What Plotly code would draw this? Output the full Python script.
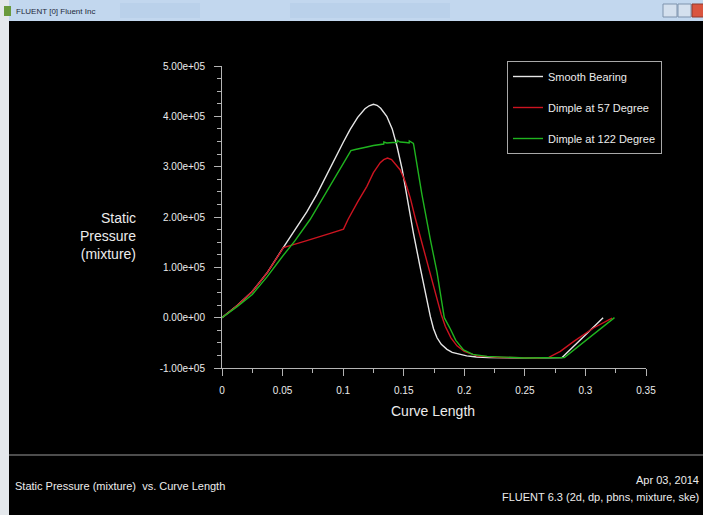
import plotly.graph_objects as go

# ---------------- data ----------------
smooth_x = [0, 0.0125, 0.025, 0.0375, 0.05, 0.0617, 0.07, 0.0783, 0.086, 0.092, 0.1, 0.1058, 0.112, 0.118,
            0.1215, 0.125, 0.128, 0.131, 0.136, 0.1405, 0.1444, 0.1487, 0.1526, 0.158, 0.1636, 0.169, 0.172,
            0.1746, 0.1775, 0.181, 0.1857, 0.19, 0.196, 0.202, 0.21, 0.22, 0.25, 0.27, 0.2807, 0.2976, 0.3146]
smooth_y = [0, 0.24e5, 0.52e5, 0.9e5, 1.37e5, 1.8e5, 2.1e5, 2.45e5, 2.82e5, 3.12e5, 3.48e5, 3.74e5, 3.98e5, 4.15e5,
            4.21e5, 4.24e5, 4.22e5, 4.16e5, 4.0e5, 3.75e5, 3.41e5, 2.95e5, 2.38e5, 1.68e5, 1.0e5, 0.36e5, 0.02e5,
            -0.22e5, -0.40e5, -0.53e5, -0.63e5, -0.69e5, -0.73e5, -0.76e5, -0.78e5, -0.79e5, -0.80e5, -0.80e5,
            -0.79e5, -0.40e5, 0.0]

dimple57_x = [0, 0.0125, 0.025, 0.0375, 0.0507, 0.053, 0.059, 0.07, 0.08, 0.09, 0.1003, 0.104, 0.112, 0.1196,
              0.125, 0.1306, 0.1335, 0.1366, 0.14, 0.1435, 0.147, 0.151, 0.1554, 0.1595, 0.1636, 0.1705, 0.1774,
              0.181, 0.1843, 0.189, 0.194, 0.2, 0.2105, 0.23, 0.26, 0.2698, 0.2793, 0.2904, 0.307, 0.322]
dimple57_y = [0, 0.24e5, 0.52e5, 0.9e5, 1.39e5, 1.41e5, 1.45e5, 1.53e5, 1.6e5, 1.68e5, 1.76e5, 1.95e5, 2.3e5,
              2.61e5, 2.88e5, 3.08e5, 3.14e5, 3.17e5, 3.14e5, 3.05e5, 2.94e5, 2.72e5, 2.38e5, 1.98e5, 1.62e5,
              1.0e5, 0.36e5, 0.06e5, -0.17e5, -0.40e5, -0.56e5, -0.67e5, -0.76e5, -0.79e5, -0.80e5, -0.79e5,
              -0.67e5, -0.47e5, -0.20e5, -0.01e5]

dimple122_x = [0, 0.0125, 0.025, 0.0375, 0.05, 0.06, 0.0727, 0.082, 0.092, 0.1064, 0.11, 0.115, 0.1196,
               0.125, 0.13, 0.1335, 0.1336, 0.136, 0.141, 0.1445, 0.1446, 0.147, 0.152, 0.1545, 0.1546,
               0.158, 0.1585, 0.165, 0.172, 0.1775, 0.1815, 0.1835, 0.1884, 0.193, 0.1994, 0.207, 0.2187,
               0.25, 0.2826, 0.324]
dimple122_y = [0, 0.22e5, 0.46e5, 0.82e5, 1.22e5, 1.52e5, 1.95e5, 2.33e5, 2.74e5, 3.32e5, 3.34e5, 3.36e5, 3.39e5,
               3.42e5, 3.44e5, 3.45e5, 3.49e5, 3.47e5, 3.48e5, 3.48e5, 3.52e5, 3.49e5, 3.48e5, 3.47e5, 3.51e5,
               3.46e5, 3.40e5, 2.45e5, 1.55e5, 0.9e5, 0.3e5, 0.0, -0.22e5, -0.45e5, -0.64e5, -0.73e5, -0.77e5,
               -0.80e5, -0.79e5, 0.0]

series_names = ["Smooth Bearing", "Dimple at 57 Degree", "Dimple at 122 Degree"]
series_colors = ["#e6e6e6", "#cc1420", "#1fb41f"]

y_tickvals = [-1e5, 0, 1e5, 2e5, 3e5, 4e5, 5e5]
y_ticktext = ["-1.00e+05", "0.00e+00", "1.00e+05", "2.00e+05", "3.00e+05", "4.00e+05", "5.00e+05"]
x_tickvals = [0, 0.05, 0.1, 0.15, 0.2, 0.25, 0.3, 0.35]
x_ticktext = ["0", "0.05", "0.1", "0.15", "0.2", "0.25", "0.3", "0.35"]

# ---------------- layout helpers ----------------
W, H = 703, 515
L, R, T, B = 222, 646, 66, 368  # plot area in pixels


def px(xp):
    return (xp - L) / (R - L)


def py(yp):
    return (B - yp) / (B - T)


FONT = "Liberation Sans, Arial, sans-serif"
AXC = "#b4b4b4"
TXT = "#ececec"

fig = go.Figure()
for xs, ys, nm, col in zip([smooth_x, dimple57_x, dimple122_x],
                           [smooth_y, dimple57_y, dimple122_y],
                           series_names, series_colors):
    fig.add_trace(go.Scatter(x=xs, y=ys, mode="lines", name=nm, legendgroup=nm,
                             line=dict(color=col, width=1.4)))

fig.update_layout(
    width=W, height=H, autosize=False,
    margin=dict(l=L, r=W - R, t=T, b=H - B, pad=0),
    paper_bgcolor="black", plot_bgcolor="black",
    font=dict(family=FONT, color=TXT, size=12),
    showlegend=True,
    legend=dict(x=px(507), y=py(61), xanchor="left", yanchor="top",
                bgcolor="black", bordercolor="#a8a8a8", borderwidth=1,
                font=dict(family=FONT, size=11, color=TXT),
                tracegroupgap=12, itemwidth=30),
)

fig.update_xaxes(range=[0, 0.35], showgrid=False, zeroline=False,
                 showline=True, linecolor=AXC, linewidth=1,
                 ticks="outside", ticklen=7, tickcolor=AXC, tickwidth=1,
                 tickvals=x_tickvals, ticktext=x_ticktext,
                 tickfont=dict(family=FONT, size=10, color=TXT),
                 minor=dict(ticks="outside", ticklen=4, dtick=0.025, tickcolor=AXC, showgrid=False),
                 ticklabelstandoff=6)
fig.update_yaxes(range=[-1e5, 5e5], showgrid=False, zeroline=False,
                 showline=True, linecolor=AXC, linewidth=1,
                 ticks="outside", ticklen=7, tickcolor=AXC, tickwidth=1,
                 tickvals=y_tickvals, ticktext=y_ticktext,
                 tickfont=dict(family=FONT, size=10, color=TXT),
                 minor=dict(ticks="outside", ticklen=4, dtick=25000, tickcolor=AXC, showgrid=False),
                 ticklabelstandoff=7)

shapes = []
annos = []
# window chrome: title bar, left border, buttons
shapes.append(dict(type="rect", xref="paper", yref="paper", x0=px(0), x1=px(W), y0=py(0), y1=py(21),
                   fillcolor="#c2d7ee", line=dict(width=0), layer="above"))
shapes.append(dict(type="rect", xref="paper", yref="paper", x0=px(120), x1=px(200), y0=py(3), y1=py(18),
                   fillcolor="#bad1ea", line=dict(width=0), layer="above"))
shapes.append(dict(type="rect", xref="paper", yref="paper", x0=px(290), x1=px(450), y0=py(3), y1=py(18),
                   fillcolor="#bad1ea", line=dict(width=0), layer="above"))
shapes.append(dict(type="rect", xref="paper", yref="paper", x0=px(0), x1=px(9), y0=py(0), y1=py(H),
                   fillcolor="#e4e8ec", line=dict(width=0), layer="above"))
shapes.append(dict(type="rect", xref="paper", yref="paper", x0=px(663), x1=px(677), y0=py(4), y1=py(17),
                   fillcolor="#d4e0ee", line=dict(color="#7f93ad", width=1), layer="above"))
shapes.append(dict(type="rect", xref="paper", yref="paper", x0=px(678), x1=px(691), y0=py(4), y1=py(17),
                   fillcolor="#d4e0ee", line=dict(color="#7f93ad", width=1), layer="above"))
shapes.append(dict(type="rect", xref="paper", yref="paper", x0=px(692), x1=px(W + 5), y0=py(4), y1=py(17),
                   fillcolor="#d9553f", line=dict(color="#8d3a2e", width=1), layer="above"))
shapes.append(dict(type="rect", xref="paper", yref="paper", x0=px(4), x1=px(11), y0=py(6), y1=py(16),
                   fillcolor="#6a9a3c", line=dict(width=0), layer="above"))
annos.append(dict(xref="paper", yref="paper", x=px(14), y=py(11), xanchor="left", yanchor="middle",
                  text="FLUENT [0] Fluent Inc", showarrow=False,
                  font=dict(family=FONT, size=8, color="#1e2a3a")))

# separator line above the footer
shapes.append(dict(type="line", xref="paper", yref="paper", x0=px(9), x1=px(W), y0=py(455), y1=py(455),
                   line=dict(color="#9a9a9a", width=1), layer="above"))

# axis titles
annos.append(dict(xref="paper", yref="paper", x=px(138), y=py(236), xanchor="right", yanchor="middle",
                  align="right", text="Static<br>Pressure<br>(mixture)", showarrow=False,
                  font=dict(family=FONT, size=14, color=TXT)))
annos.append(dict(xref="paper", yref="paper", x=px(433), y=py(411), xanchor="center", yanchor="middle",
                  text="Curve Length", showarrow=False,
                  font=dict(family=FONT, size=14, color=TXT)))

# footer texts
annos.append(dict(xref="paper", yref="paper", x=px(13), y=py(486), xanchor="left", yanchor="middle",
                  text="Static Pressure (mixture)  vs. Curve Length", showarrow=False,
                  font=dict(family=FONT, size=11, color=TXT)))
annos.append(dict(xref="paper", yref="paper", x=px(701), y=py(480), xanchor="right", yanchor="middle",
                  text="Apr 03, 2014", showarrow=False,
                  font=dict(family=FONT, size=11, color=TXT)))
annos.append(dict(xref="paper", yref="paper", x=px(701), y=py(497), xanchor="right", yanchor="middle",
                  text="FLUENT 6.3 (2d, dp, pbns, mixture, ske)", showarrow=False,
                  font=dict(family=FONT, size=11, color=TXT)))

fig.update_layout(shapes=shapes, annotations=annos)
fig.write_html("out.html")
